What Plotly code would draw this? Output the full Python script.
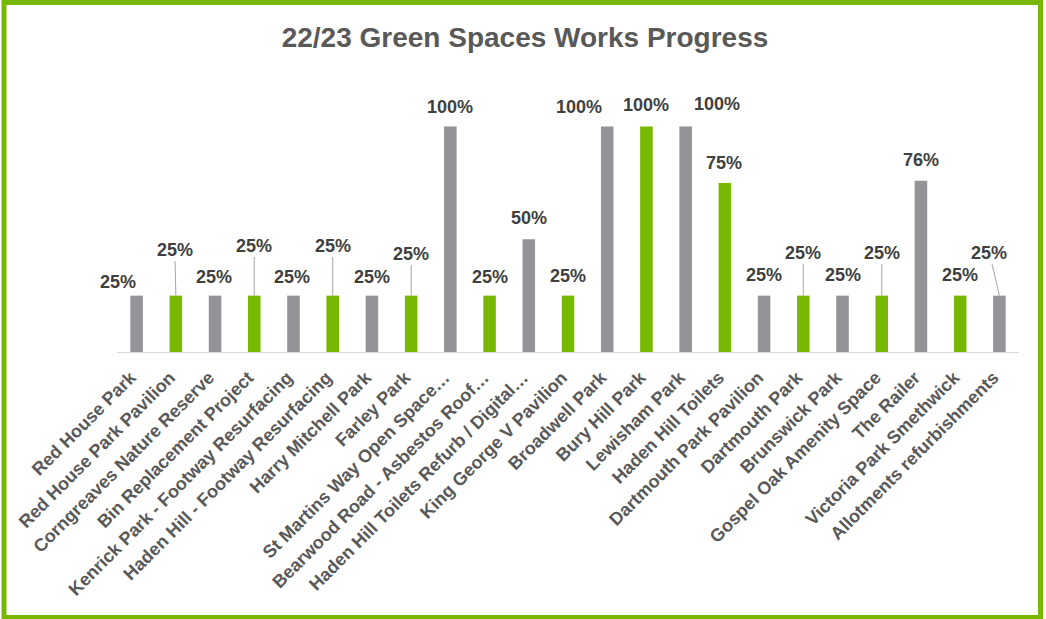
import plotly.graph_objects as go

projects = ['Red House Park', 'Red House Park Pavilion', 'Corngreaves Nature Reserve',
            'Bin Replacement Project', 'Kenrick Park - Footway Resurfacing',
            'Haden Hill - Footway Resurfacing', 'Harry Mitchell Park', 'Farley Park',
            'St Martins Way Open Space…', 'Bearwood Road - Asbestos Roof…',
            'Haden Hill Toilets Refurb / Digital…', 'King George V Pavilion',
            'Broadwell Park', 'Bury Hill Park', 'Lewisham Park', 'Haden Hill Toilets',
            'Dartmouth Park Pavilion', 'Dartmouth Park', 'Brunswick Park',
            'Gospel Oak Amenity Space', 'The Railer', 'Victoria Park Smethwick',
            'Allotments refurbishments']
progress = [25, 25, 25, 25, 25, 25, 25, 25, 100, 25, 50, 25,
            100, 100, 100, 75, 25, 25, 25, 25, 76, 25, 25]

GRAY = '#929497'
GREEN = '#76B900'
FONT = 'Liberation Sans, Arial, sans-serif'

# label nudges in px (dx, dy from bar top) and which get a leader line
label_offsets = [(-19, -14), (-1, -46), (-1, -19), (0, -50), (-1, -19), (0, -50),
                 (0, -19), (0, -42), (0, -20), (0, -19), (0, -21), (0, -20),
                 (-28, -20), (0, -22), (31, -23), (-1, -20), (0, -21), (0, -43),
                 (0, -21), (0, -43), (0, -21), (0, -21), (-10, -43)]
leaders = {1, 3, 5, 7, 17, 19, 22}

W, H = 1046, 619
ml, mr, mt, mb = 117, 27, 104, 267

colors = [GRAY if i % 2 == 0 else GREEN for i in range(len(projects))]

fig = go.Figure()
fig.add_trace(go.Bar(x=projects, y=progress, marker=dict(color=colors, line=dict(width=0)),
                     width=0.32, showlegend=False, hoverinfo='x+y'))

for i, (name, val) in enumerate(zip(projects, progress)):
    dx, dy = label_offsets[i]
    txt = f'{val}%'
    if i in leaders:
        fig.add_annotation(x=name, y=val, text=txt, showarrow=True, ax=dx, ay=dy,
                           arrowhead=0, arrowwidth=1, arrowcolor='#A6A6A6', standoff=0,
                           font=dict(family=FONT, size=18, color='#404040', weight='bold'))
    else:
        fig.add_annotation(x=name, y=val, text=txt, showarrow=False, xshift=dx, yshift=-dy,
                           font=dict(family=FONT, size=18, color='#404040', weight='bold'))

# green frame around the whole chart
pw, ph = W - ml - mr, H - mt - mb
fig.add_shape(type='rect', xref='paper', yref='paper',
              x0=(4 - ml) / pw, x1=(1040.5 - ml) / pw,
              y0=(H - mb - 617.5) / ph, y1=(H - mb - 2.5) / ph,
              line=dict(color='#76B900', width=5), fillcolor='rgba(0,0,0,0)', layer='above')

fig.update_layout(
    width=W, height=H,
    margin=dict(l=ml, r=mr, t=mt, b=mb),
    paper_bgcolor='white', plot_bgcolor='white',
    title=dict(text='<b>22/23 Green Spaces Works Progress</b>', x=525 / W, xref='container',
               xanchor='center', y=1 - 37 / H, yanchor='middle',
               font=dict(family=FONT, size=28, color='#595959')),
    font=dict(family=FONT),
)
fig.update_xaxes(range=[-0.5, len(projects) - 0.5], autorange=False,
                 tickangle=-45, showline=True, linecolor='#D9D9D9', linewidth=1,
                 ticks='', automargin=False, ticklabelstandoff=7, ticklabelshift=-6,
                 tickfont=dict(family=FONT, size=18, color='#595959', weight='bold'))
fig.update_yaxes(range=[0, 110], visible=False, showgrid=False, zeroline=False)

fig.write_html('out.html', config={'displayModeBar': False},
               post_script="document.body.style.margin='0';")
